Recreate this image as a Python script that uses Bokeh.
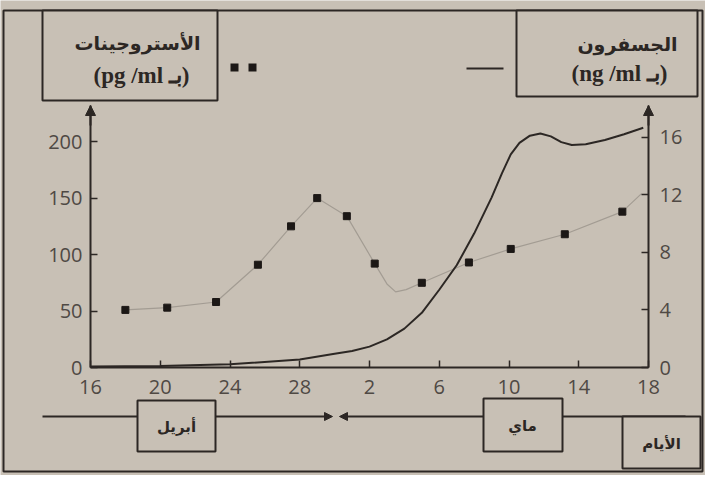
from bokeh.plotting import figure
from bokeh.models import Range1d, LinearAxis, FixedTicker, BoxAnnotation, Label, Arrow, NormalHead
from bokeh.embed import file_html
from bokeh.resources import INLINE

# ---------------- data ----------------
# x = days counted from 16 April (April has 30 days)
day_ticks = [0, 4, 8, 12, 16, 20, 24, 28, 32]
day_tick_labels = ["16", "20", "24", "28", "2", "6", "10", "14", "18"]

estrogen_ticks = [0, 50, 100, 150, 200]
progesterone_ticks = [0, 4, 8, 12, 16]

# oestrogens (pg/ml) - square markers
estrogen_days = [2.0, 4.4, 7.2, 9.6, 11.5, 13.0, 14.7, 16.3, 19.0, 21.7, 24.1, 27.2, 30.5]
estrogen_values = [51, 53, 58, 91, 125, 150, 134, 92, 75, 93, 105, 118, 138]

# thin grey trend line drawn through the oestrogen markers
estrogen_trend_days = [2.0, 4.4, 7.2, 9.6, 11.5, 13.0, 14.7, 16.3, 17.0, 17.5, 18.1, 19.0,
                       21.7, 24.1, 27.2, 30.5, 31.6]
estrogen_trend_values = [51, 53, 58, 91, 125, 150, 134, 92, 74, 67, 69, 75,
                         93, 105, 118, 138, 154]

# progesterone (ng/ml) - solid curve
progesterone_days = [0.0, 4.0, 8.0, 12.0, 14.0, 15.0, 16.0, 17.0, 18.0, 19.0, 20.0, 21.0,
                     22.0, 23.0, 23.6, 24.1, 24.6, 25.2, 25.8, 26.4, 27.0, 27.6, 28.4,
                     29.5, 30.6, 31.7]
progesterone_values = [0.07, 0.11, 0.22, 0.55, 0.95, 1.15, 1.45, 1.95, 2.7, 3.8, 5.4, 7.1,
                       9.3, 11.8, 13.5, 14.8, 15.6, 16.1, 16.25, 16.05, 15.65, 15.45, 15.5,
                       15.8, 16.2, 16.65]

estrogen_title = "الأستروجينات"
estrogen_unit = "(pg /ml بـ)"
progesterone_title = "الجسفرون"
progesterone_unit = "(ng /ml بـ)"
month_april = "أبريل"
month_may = "ماي"
days_label = "الأيام"

# ---------------- style / layout ----------------
BG = "#c8c0b5"
INK = "#2c2724"
TICK_TXT = "#4f4944"
W, H = 705, 475
FL, FR, FT, FB = 90, 648, 105, 367          # axis box on the canvas (px)
N_DAYS = 32
PG_TOP = 232                                  # left axis top (pg/ml)
PX_PER_DAY = (FR - FL) / N_DAYS
PX_PER_PG = (FB - FT) / PG_TOP
PX_PER_NG = 14.4                              # right-axis scale (px per ng/ml)
NG_TOP = (FB - FT) / PX_PER_NG

p = figure(width=W, height=H, output_backend="svg", toolbar_location=None,
           x_range=Range1d(-FL / PX_PER_DAY, (W - FL) / PX_PER_DAY),
           y_range=Range1d(-(H - FB) / PX_PER_PG, FB / PX_PER_PG),
           x_axis_location=None, y_axis_location=None,
           min_border=0, min_border_left=0, min_border_right=0,
           min_border_top=0, min_border_bottom=0)
p.extra_y_ranges = {"prog": Range1d(-(H - FB) / PX_PER_NG, FB / PX_PER_NG)}
p.background_fill_color = BG
p.border_fill_color = BG
p.outline_line_color = None
p.xgrid.grid_line_color = None
p.ygrid.grid_line_color = None

def style_axis(ax, standoff):
    ax.axis_line_color = INK
    ax.axis_line_width = 2
    ax.major_tick_line_color = INK
    ax.major_tick_line_width = 1.5
    ax.major_tick_in = 7
    ax.major_tick_out = 0
    ax.minor_tick_line_color = None
    ax.major_label_text_font = "Open Sans"
    ax.major_label_text_font_size = "20px"
    ax.major_label_text_color = TICK_TXT
    ax.major_label_standoff = standoff

xa = LinearAxis(ticker=FixedTicker(ticks=day_ticks), fixed_location=0, bounds=(0, N_DAYS),
                major_label_overrides={t: lab for t, lab in zip(day_ticks, day_tick_labels)})
style_axis(xa, 12)
p.add_layout(xa, "below")

ya = LinearAxis(ticker=FixedTicker(ticks=estrogen_ticks), fixed_location=0, bounds=(0, PG_TOP))
style_axis(ya, 8)
p.add_layout(ya, "left")

yr = LinearAxis(y_range_name="prog", ticker=FixedTicker(ticks=progesterone_ticks),
                fixed_location=N_DAYS, bounds=(0, NG_TOP))
style_axis(yr, 11)
p.add_layout(yr, "right")

# ---------------- decorations (canvas px -> data) ----------------
def dx(px):
    return p.x_range.start + px / PX_PER_DAY

def dy(py):
    return (FB - py) / PX_PER_PG

# outer frame of the figure
p.add_layout(BoxAnnotation(left=dx(3), right=dx(702), top=dy(10), bottom=dy(471),
                           fill_alpha=0, line_color=INK, line_width=2, line_alpha=1))

head = dict(size=10, fill_color=INK, line_color=INK)
p.add_layout(Arrow(x_start=0, y_start=dy(FT + 20), x_end=0, y_end=PG_TOP,
                   end=NormalHead(**head), line_color=INK, line_width=2))
p.add_layout(Arrow(x_start=N_DAYS, y_start=dy(FT + 20), x_end=N_DAYS, y_end=PG_TOP,
                   end=NormalHead(**head), line_color=INK, line_width=2))

# timeline under the axis
small = dict(size=8, fill_color=INK, line_color=INK)
p.add_layout(Arrow(x_start=dx(42), y_start=dy(416), x_end=dx(332), y_end=dy(416),
                   end=NormalHead(**small), line_color=INK, line_width=2))
p.add_layout(Arrow(x_start=dx(685), y_start=dy(416), x_end=dx(339), y_end=dy(416),
                   end=NormalHead(**small), line_color=INK, line_width=2))

def box(l, t, r, b):
    p.add_layout(BoxAnnotation(left=dx(l), right=dx(r), top=dy(t), bottom=dy(b),
                               fill_color=BG, fill_alpha=1, line_color=INK,
                               line_width=2, line_alpha=1))

def label(x, y, txt, font="DejaVu Sans", size="17px"):
    p.add_layout(Label(x=dx(x), y=dy(y), text=txt, text_align="center",
                       text_baseline="middle", text_font=font, text_font_size=size,
                       text_font_style="bold", text_color=INK))

box(42, 10, 217, 100)
box(516, 10, 697, 96)
box(137, 400, 215, 451)
box(483, 398, 562, 451)
box(622, 416, 700, 468)

label(137, 42, estrogen_title, size="19px")
label(141, 75, estrogen_unit, font="Liberation Serif", size="23px")
label(627, 43, progesterone_title, size="19px")
label(619, 73, progesterone_unit, font="Liberation Serif", size="23px")
label(176, 426, month_april, size="15px")
label(522, 425, month_may, size="15px")
label(661, 443, days_label, size="15px")

# legend keys
p.add_layout(BoxAnnotation(left=dx(230), right=dx(238), top=dy(63), bottom=dy(71),
                           fill_color="#1c1816", fill_alpha=1, line_color=None))
p.add_layout(BoxAnnotation(left=dx(248), right=dx(256), top=dy(63), bottom=dy(71),
                           fill_color="#1c1816", fill_alpha=1, line_color=None))
p.add_layout(Arrow(x_start=dx(466), y_start=dy(68), x_end=dx(503), y_end=dy(68),
                   end=None, line_color=INK, line_width=2))

# ---------------- data marks ----------------
p.line(estrogen_trend_days, estrogen_trend_values, line_color="#a39c93", line_width=1.2)
p.line(progesterone_days, progesterone_values, y_range_name="prog", line_color=INK, line_width=2)
p.scatter(estrogen_days, estrogen_values, marker="square", size=7,
          fill_color="#1c1816", line_color="#1c1816")

open("out.html", "w").write(file_html(p, INLINE))
